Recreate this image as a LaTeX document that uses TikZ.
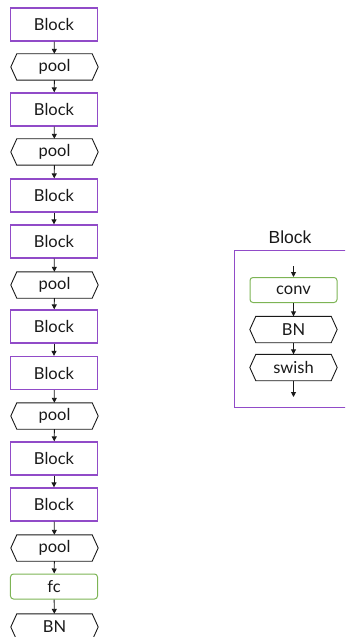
\documentclass[tikz,border=0pt]{standalone}
\usepackage{fontspec}
\setmainfont{Lato}
\newfontfamily\titlefont{Liberation Sans}
\usetikzlibrary{arrows.meta}
\definecolor{blockpurple}{RGB}{145,75,200}
\definecolor{convgreen}{RGB}{125,180,85}
\definecolor{inkgray}{RGB}{25,25,25}
\newcommand\hexdraw[1]{\draw[line width=0.9bp, inkgray] ([xshift=6bp]#1.north west) -- ([xshift=-6bp]#1.north east) -- (#1.east) -- ([xshift=-6bp]#1.south east) -- ([xshift=6bp]#1.south west) -- (#1.west) -- cycle;}
\begin{document}
\begin{tikzpicture}[x=1bp,y=-1bp,
 lbl/.style={font=\fontsize{16.5bp}{19bp}\selectfont, text=inkgray, inner sep=0pt},
 blockbox/.style={lbl, draw=blockpurple, line width=1.3bp, minimum width=87bp, minimum height=33bp},
 hexbox/.style={lbl, minimum width=87bp, minimum height=26bp},
 greenbox/.style={lbl, draw=convgreen, line width=1bp, rounded corners=3bp, minimum width=87bp, minimum height=25bp},
 flow/.style={-{Triangle[width=5bp,length=5bp]}, line width=0.9bp, inkgray},
]
\useasboundingbox (0,0) rectangle (345,637);
\clip (0,0) rectangle (345,637);
% left column
\node[blockbox] (b1) at (54,24.5) {Block};
\node[hexbox]   (p1) at (54.5,67) {pool};
\node[blockbox] (b2) at (54,109.5) {Block};
\node[hexbox]   (p2) at (54.5,152) {pool};
\node[blockbox] (b3) at (54,195.5) {Block};
\node[blockbox] (b4) at (54,241.5) {Block};
\node[hexbox]   (p3) at (54.5,285) {pool};
\node[blockbox] (b5) at (54,326.5) {Block};
\node[blockbox] (b6) at (54,373) {Block};
\node[hexbox]   (p4) at (54.5,416) {pool};
\node[blockbox] (b7) at (54,458.5) {Block};
\node[blockbox] (b8) at (54,504.5) {Block};
\node[hexbox]   (p5) at (54.5,548) {pool};
\node[greenbox] (fc) at (54,586.5) {fc};
\node[hexbox]   (bn) at (54.5,627) {BN};
\foreach \h in {p1,p2,p3,p4,p5,bn} {\hexdraw{\h}}
\draw[flow] (b1) -- (p1);
\draw[flow] (p1) -- (b2);
\draw[flow] (b2) -- (p2);
\draw[flow] (p2) -- (b3);
\draw[flow] (b3) -- (b4);
\draw[flow] (b4) -- (p3);
\draw[flow] (p3) -- (b5);
\draw[flow] (b5) -- (b6);
\draw[flow] (b6) -- (p4);
\draw[flow] (p4) -- (b7);
\draw[flow] (b7) -- (b8);
\draw[flow] (b8) -- (p5);
\draw[flow] (p5) -- (fc);
\draw[flow] (fc) -- (bn);
% right: block detail
\node[font=\titlefont\fontsize{17.5bp}{20bp}\selectfont, text=inkgray, inner sep=0pt] (title) at (290,237.5) {Block};
\draw[blockpurple, line width=1bp] (350,250) -- (234,250) -- (234,407) -- (350,407);
\coordinate (in0) at (293.5,266);
\coordinate (out0) at (293.5,397);
\node[greenbox] (conv) at (293.5,290) {conv};
\node[hexbox]   (bn2) at (293.5,329.5) {BN};
\node[hexbox]   (sw) at (293.5,367.5) {swish};
\hexdraw{bn2}
\hexdraw{sw}
\draw[flow] (in0) -- (conv);
\draw[flow] (conv) -- (bn2);
\draw[flow] (bn2) -- (sw);
\draw[flow] (sw) -- (out0);
\end{tikzpicture}
\end{document}
